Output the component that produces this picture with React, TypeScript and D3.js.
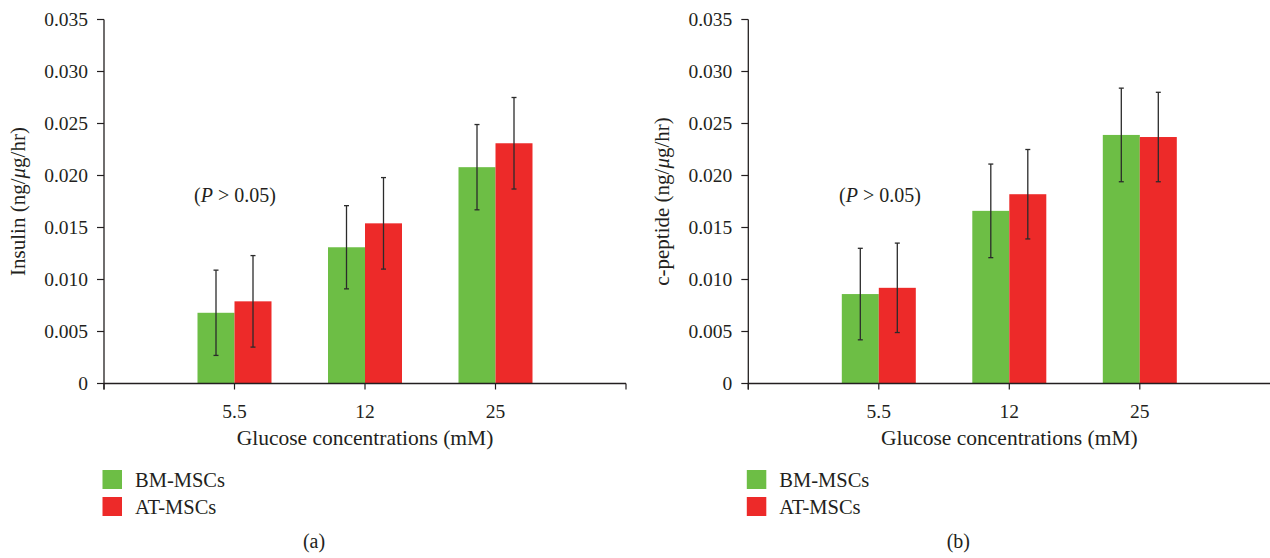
import React from "react";
import * as d3 from "d3";

const categories = ["5.5", "12", "25"];
const seriesNames = ["BM-MSCs", "AT-MSCs"];
const seriesColors = ["#6dbe45", "#ed2a29"];
const yTicks = [0, 0.005, 0.01, 0.015, 0.02, 0.025, 0.03, 0.035];

// Panel (a): insulin
const insulinBM = [0.0068, 0.0131, 0.0208];
const insulinBMsd = [0.0041, 0.004, 0.0041];
const insulinAT = [0.0079, 0.0154, 0.0231];
const insulinATsd = [0.0044, 0.0044, 0.0044];

// Panel (b): c-peptide
const cpepBM = [0.0086, 0.0166, 0.0239];
const cpepBMsd = [0.0044, 0.0045, 0.0045];
const cpepAT = [0.0092, 0.0182, 0.0237];
const cpepATsd = [0.0043, 0.0043, 0.0043];

const FONT = "'Liberation Serif', 'Times New Roman', serif";
const TEXT = "#231f20";

type PanelProps = {
  left: number;
  right: number;
  title: React.ReactNode;
  label: string;
  values: number[][];
  sds: number[][];
  pText: number;
};

function Panel({ left, right, title, label, values, sds, pText }: PanelProps) {
  const top = 19.5;
  const bottom = 383.5;
  const y = d3.scaleLinear().domain([0, 0.035]).range([bottom, top]);
  const x = d3.scaleLinear().domain([0, 4]).range([left, left + 4 * 130.5]);
  const barW = 37;
  const fmt = (v: number) => (v === 0 ? "0" : d3.format(".3f")(v));
  const cx = x(2);
  return (
    <g fontFamily={FONT} fill={TEXT}>
      {/* y axis */}
      <line x1={left} x2={left} y1={top} y2={bottom + 6} stroke="#231f20" strokeWidth={1.3} />
      {yTicks.map((t) => (
        <g key={t}>
          <line x1={left - 7} x2={left} y1={y(t)} y2={y(t)} stroke="#231f20" strokeWidth={1.2} />
          <text x={left - 16} y={y(t)} dy="0.35em" textAnchor="end" fontSize={19.5}>
            {fmt(t)}
          </text>
        </g>
      ))}
      {/* bars */}
      {categories.map((c, i) => (
        <g key={c}>
          {values.map((vals, s) => {
            const x0 = s === 0 ? x(i + 1) - barW : x(i + 1);
            return (
              <rect
                key={s}
                x={x0}
                y={y(vals[i])}
                width={barW}
                height={y(0) - y(vals[i])}
                fill={seriesColors[s]}
              />
            );
          })}
          {values.map((vals, s) => {
            const xc = s === 0 ? x(i + 1) - barW / 2 : x(i + 1) + barW / 2;
            const hi = y(vals[i] + sds[s][i]);
            const lo = y(vals[i] - sds[s][i]);
            return (
              <g key={"e" + s} stroke="#2b2b2b" strokeWidth={1.3}>
                <line x1={xc} x2={xc} y1={hi} y2={lo} />
                <line x1={xc - 2.5} x2={xc + 2.5} y1={hi} y2={hi} />
                <line x1={xc - 2.5} x2={xc + 2.5} y1={lo} y2={lo} />
              </g>
            );
          })}
          <text x={x(i + 1)} y={y(0) + 34} textAnchor="middle" fontSize={19.5}>
            {c}
          </text>
        </g>
      ))}
      {/* x axis */}
      <line x1={left} x2={Math.min(right, x(4))} y1={bottom} y2={bottom} stroke="#231f20" strokeWidth={1.4} />
      {[0, 1, 2, 3, 4].map((k) =>
        x(k) <= right ? (
          <line key={k} x1={x(k)} x2={x(k)} y1={bottom} y2={bottom + 6} stroke="#231f20" strokeWidth={1.2} />
        ) : null
      )}
      <text x={cx} y={445} textAnchor="middle" fontSize={21.5}>
        Glucose concentrations (mM)
      </text>
      {/* p text */}
      <text x={pText} y={195} dy="0.35em" textAnchor="middle" fontSize={20}>
        (<tspan fontStyle="italic">P</tspan> {">"} 0.05)
      </text>
      {/* y title */}
      <text
        transform={`translate(${left - 79},${(top + bottom) / 2}) rotate(-90)`}
        textAnchor="middle"
        fontSize={21}
      >
        {title}
      </text>
      {/* legend */}
      {seriesNames.map((n, s) => (
        <g key={n}>
          <rect x={left - 1.5} y={470 + s * 27} width={19.5} height={19} fill={seriesColors[s]} />
          <text x={left + 31} y={479.5 + s * 27} dy="0.35em" fontSize={20.5}>
            {n}
          </text>
        </g>
      ))}
      <text x={cx - 51} y={548} textAnchor="middle" fontSize={20}>
        {label}
      </text>
    </g>
  );
}

export default function App() {
  return (
    <svg
      width={1270}
      height={558}
      style={{ position: "absolute", left: 0, top: 0, background: "#fff" }}
    >
      <Panel
        left={104}
        right={1270}
        title={
          <>
            Insulin (ng/<tspan fontStyle="italic">μ</tspan>g/hr)
          </>
        }
        label="(a)"
        values={[insulinBM, insulinAT]}
        sds={[insulinBMsd, insulinATsd]}
        pText={235}
      />
      <Panel
        left={748.3}
        right={1270}
        title={
          <>
            c-peptide (ng/<tspan fontStyle="italic">μ</tspan>g/hr)
          </>
        }
        label="(b)"
        values={[cpepBM, cpepAT]}
        sds={[cpepBMsd, cpepATsd]}
        pText={880}
      />
    </svg>
  );
}
